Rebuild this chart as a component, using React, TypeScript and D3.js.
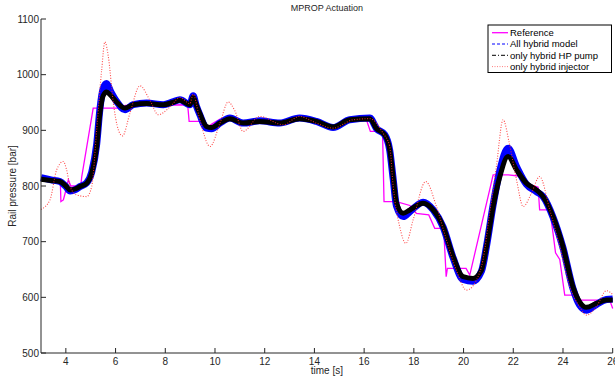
import { useEffect, useRef } from 'react';
import * as d3 from 'd3';

// [time s, rail pressure bar]
const referenceSeries: [number, number][] = [
  [3.0, 812], [3.5, 808], [3.78, 805], [3.8, 772], [3.9, 775], [3.97, 787],
  [4.1, 811], [4.2, 800], [4.6, 800], [4.64, 817], [5.1, 940], [6.2, 940],
  [6.4, 945], [8.9, 946], [8.96, 916], [9.4, 916], [9.7, 906], [9.9, 912],
  [10.2, 920], [10.6, 918], [11.2, 914], [12.6, 914], [13.4, 919], [14.7, 908],
  [15.4, 918], [16.1, 918], [16.25, 898], [16.74, 898], [16.8, 772], [17.3, 772],
  [17.84, 765], [18.1, 751], [18.6, 748], [18.84, 724], [19.2, 724], [19.3, 637],
  [19.35, 652], [20.1, 652], [20.25, 640], [21.19, 820], [21.8, 820], [22.2, 818],
  [22.5, 805], [23.0, 798], [23.06, 757], [23.47, 757], [23.6, 715], [23.7, 680],
  [23.87, 668], [24.07, 604], [24.53, 604], [24.55, 595], [25.88, 595], [26.0, 580],
];

const allHybridSeries: [number, number][] = [
  [3.0, 815], [3.4, 811], [3.76, 808], [4.0, 799], [4.17, 791], [4.4, 794],
  [4.57, 799], [4.84, 806], [5.04, 825], [5.24, 875], [5.37, 938], [5.5, 975],
  [5.64, 984], [5.8, 970], [6.04, 952], [6.38, 937], [6.71, 946], [7.25, 949],
  [7.92, 946], [8.3, 951], [8.59, 955], [8.99, 946], [9.12, 962], [9.25, 944],
  [9.39, 928], [9.66, 904], [9.86, 903], [10.2, 913], [10.6, 922], [11.13, 913],
  [11.8, 917], [12.6, 913], [13.4, 922], [14.08, 916], [14.75, 905], [15.42, 919],
  [16.23, 922], [16.5, 903], [16.83, 892], [17.03, 864], [17.17, 812], [17.3, 764],
  [17.57, 745], [17.84, 754], [18.37, 771], [18.78, 757], [19.18, 726], [19.58, 671],
  [19.98, 632], [20.38, 629], [20.72, 647], [20.92, 691], [21.19, 766], [21.46, 828],
  [21.79, 868], [22.13, 835], [22.53, 803], [22.93, 790], [23.2, 781], [23.6, 744],
  [24.0, 689], [24.4, 616], [24.67, 586], [24.94, 577], [25.34, 587], [25.75, 596],
  [26.0, 597],
];

const hpPumpSeries: [number, number][] = [
  [3.0, 812], [3.4, 810], [3.76, 808], [4.0, 800], [4.17, 793], [4.4, 795],
  [4.57, 799], [4.84, 805], [5.04, 823], [5.24, 871], [5.37, 931], [5.5, 962],
  [5.64, 969], [5.8, 963], [6.04, 951], [6.38, 940], [6.71, 946], [7.25, 948],
  [7.92, 946], [8.3, 950], [8.59, 954], [8.99, 946], [9.12, 960], [9.25, 945],
  [9.39, 930], [9.66, 907], [9.86, 905], [10.2, 913], [10.6, 921], [11.13, 913],
  [11.8, 916], [12.6, 913], [13.4, 921], [14.08, 916], [14.75, 906], [15.42, 919],
  [16.23, 921], [16.5, 903], [16.83, 892], [17.03, 865], [17.17, 815], [17.3, 770],
  [17.57, 751], [17.84, 757], [18.37, 769], [18.78, 757], [19.18, 727], [19.58, 673],
  [19.98, 637], [20.38, 634], [20.72, 649], [20.92, 691], [21.19, 763], [21.46, 817],
  [21.79, 853], [22.13, 829], [22.53, 805], [22.93, 793], [23.2, 781], [23.6, 745],
  [24.0, 691], [24.4, 619], [24.67, 592], [24.94, 582], [25.34, 589], [25.75, 595],
  [26.0, 595],
];

const injectorSeries: [number, number][] = [
  [3.0, 758], [3.36, 775], [3.63, 829], [3.9, 844], [4.03, 829], [4.17, 799],
  [4.43, 784], [4.84, 781], [5.04, 799], [5.24, 901], [5.44, 1008], [5.57, 1059],
  [5.71, 1032], [5.91, 949], [6.11, 901], [6.28, 890], [6.58, 931], [6.98, 980],
  [7.38, 954], [7.72, 928], [8.19, 942], [8.59, 959], [8.99, 948], [9.12, 965],
  [9.39, 919], [9.8, 871], [10.2, 913], [10.53, 951], [10.8, 935], [11.13, 898],
  [11.8, 925], [12.74, 910], [13.4, 925], [14.08, 913], [14.75, 904], [15.56, 919],
  [16.23, 921], [16.76, 895], [17.03, 871], [17.17, 799], [17.43, 727], [17.68, 697],
  [17.97, 739], [18.48, 808], [18.91, 763], [19.31, 703], [19.71, 649], [20.12, 613],
  [20.52, 631], [20.78, 667], [21.05, 751], [21.32, 835], [21.59, 919], [21.84, 877],
  [22.13, 811], [22.4, 763], [22.73, 787], [23.06, 817], [23.47, 757], [23.87, 691],
  [24.27, 619], [24.67, 583], [24.94, 568], [25.34, 583], [25.75, 612], [26.0, 605],
];

const xTicks = [4, 6, 8, 10, 12, 14, 16, 18, 20, 22, 24, 26];
const yTicks = [500, 600, 700, 800, 900, 1000, 1100];
const legendLabels = ['Reference', 'All hybrid model', 'only hybrid HP pump', 'only hybrid injector'];

const FONT = 'Liberation Sans, Arial, Helvetica, sans-serif';

export default function App() {
  const svgRef = useRef<SVGSVGElement>(null);

  useEffect(() => {
    if (!svgRef.current) return;
    const svg = d3.select(svgRef.current);
    svg.selectAll('*').remove();

    const x = d3.scaleLinear().domain([3, 26]).range([41, 612.7]);
    const y = d3.scaleLinear().domain([500, 1100]).range([353, 19]);

    svg.append('rect').attr('width', 615).attr('height', 378).attr('fill', '#fff');

    const smooth = d3
      .line<[number, number]>()
      .x((d) => x(d[0]))
      .y((d) => y(d[1]))
      .curve(d3.curveMonotoneX);
    const straight = d3
      .line<[number, number]>()
      .x((d) => x(d[0]))
      .y((d) => y(d[1]));

    // series, in plot order
    svg.append('path')
      .datum(referenceSeries)
      .attr('fill', 'none')
      .attr('stroke', '#ff00ff')
      .attr('stroke-width', 1.3)
      .attr('d', straight);

    svg.append('path')
      .datum(allHybridSeries)
      .attr('fill', 'none')
      .attr('stroke', '#0000ff')
      .attr('stroke-width', 7)
      .attr('stroke-linejoin', 'round')
      .attr('d', smooth);

    svg.append('path')
      .datum(hpPumpSeries)
      .attr('fill', 'none')
      .attr('stroke', '#000')
      .attr('stroke-width', 5)
      .attr('stroke-linejoin', 'round')
      .attr('d', smooth);

    svg.append('path')
      .datum(injectorSeries)
      .attr('fill', 'none')
      .attr('stroke', '#ff2a2a')
      .attr('stroke-width', 1.1)
      .attr('stroke-dasharray', '1,1.6')
      .attr('stroke-opacity', 0.85)
      .attr('d', smooth);

    // axes (MATLAB style: ticks inside, box off)
    const axisColor = '#262626';
    const xAxis = svg.append('g').attr('transform', `translate(0,${y(500)})`);
    xAxis.append('line').attr('x1', x(3)).attr('x2', x(26)).attr('stroke', axisColor);
    xTicks.forEach((t) => {
      xAxis.append('line')
        .attr('x1', x(t)).attr('x2', x(t))
        .attr('y1', 0).attr('y2', -5)
        .attr('stroke', axisColor);
      xAxis.append('text')
        .attr('x', x(t)).attr('y', 11.5)
        .attr('text-anchor', 'middle')
        .attr('font-family', FONT).attr('font-size', 10)
        .attr('fill', axisColor)
        .text(t);
    });

    const yAxis = svg.append('g').attr('transform', `translate(${x(3)},0)`);
    yAxis.append('line').attr('y1', y(500)).attr('y2', y(1100)).attr('stroke', axisColor);
    yTicks.forEach((v) => {
      yAxis.append('line')
        .attr('x1', 0).attr('x2', 5)
        .attr('y1', y(v)).attr('y2', y(v))
        .attr('stroke', axisColor);
      yAxis.append('text')
        .attr('x', -2).attr('y', y(v))
        .attr('dy', '0.35em')
        .attr('text-anchor', 'end')
        .attr('font-family', FONT).attr('font-size', 10)
        .attr('fill', axisColor)
        .text(v);
    });

    svg.append('text')
      .attr('x', (x(3) + x(26)) / 2).attr('y', 374)
      .attr('text-anchor', 'middle')
      .attr('font-family', FONT).attr('font-size', 10)
      .attr('fill', axisColor)
      .text('time [s]');

    svg.append('text')
      .attr('transform', `translate(12,${(y(500) + y(1100)) / 2}) rotate(-90)`)
      .attr('dy', '0.35em')
      .attr('text-anchor', 'middle')
      .attr('font-family', FONT).attr('font-size', 10)
      .attr('fill', axisColor)
      .text('Rail pressure [bar]');

    svg.append('text')
      .attr('x', (x(3) + x(26)) / 2).attr('y', 11)
      .attr('text-anchor', 'middle')
      .attr('font-family', FONT).attr('font-size', 9)
      .attr('fill', axisColor)
      .text('MPROP Actuation');

    // legend
    const legend = svg.append('g').attr('transform', 'translate(488,25)');
    legend.append('rect')
      .attr('width', 123.5).attr('height', 47.5)
      .attr('fill', '#fff').attr('stroke', '#000').attr('stroke-width', 1);
    const styles = [
      { stroke: '#ff00ff', dash: null, width: 1.3, opacity: 1 },
      { stroke: '#0000ff', dash: '3,2', width: 1, opacity: 1 },
      { stroke: '#000', dash: '4,2,1,2', width: 1, opacity: 1 },
      { stroke: '#ff2a2a', dash: '1,1.5', width: 1, opacity: 0.6 },
    ];
    legendLabels.forEach((label, i) => {
      const ry = 7.7 + i * 11.3;
      const s = styles[i];
      legend.append('line')
        .attr('x1', 4).attr('x2', 20)
        .attr('y1', ry).attr('y2', ry)
        .attr('stroke', s.stroke)
        .attr('stroke-width', s.width)
        .attr('stroke-opacity', s.opacity)
        .attr('stroke-dasharray', s.dash);
      legend.append('text')
        .attr('x', 22).attr('y', ry)
        .attr('dy', '0.35em')
        .attr('font-family', FONT).attr('font-size', 9.5)
        .attr('fill', '#000')
        .text(label);
    });
  }, []);

  return (
    <svg
      ref={svgRef}
      width={615}
      height={378}
      style={{ position: 'absolute', left: 0, top: 0 }}
    />
  );
}
